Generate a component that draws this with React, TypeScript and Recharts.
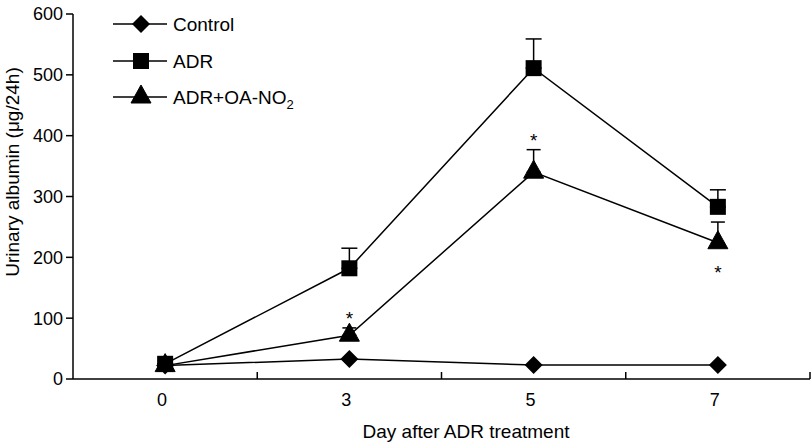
import * as React from "react";
import {ErrorBar, Line, LineChart, XAxis, YAxis} from "recharts";

// values (urinary albumin, µg/24h)
const DAYS = ["0", "3", "5", "7"];
const CONTROL = [22, 33, 23, 23];
const ADR = [25, 182, 511, 283];
const ADR_ERR = [0, 33, 48, 28];
const OA = [22, 72, 340, 224];
const OA_ERR = [0, 12, 37, 34];
const OA_SIG = ["", "above", "above", "below"];
const Y_TICKS = [0, 100, 200, 300, 400, 500, 600];

const FONT = "'Liberation Sans', Arial, sans-serif";

const data = DAYS.map((day, i) => ({
    idx: i,
    day,
    control: CONTROL[i],
    adr: ADR[i],
    adrErr: [0, ADR_ERR[i]],
    oa: OA[i],
    oaErr: [0, OA_ERR[i]],
    oaStar: OA_SIG[i] === "above" ? OA[i] + OA_ERR[i] : null,
}));

type Shape = "diamond" | "square" | "triangle";

function Marker({cx, cy, shape}: { cx: number, cy: number, shape: Shape }) {
    if (cx == null || cy == null || isNaN(cx) || isNaN(cy)) return null;
    if (shape === "diamond") {
        return <polygon points={`${cx},${cy - 9} ${cx + 9},${cy} ${cx},${cy + 9} ${cx - 9},${cy}`} fill="#000"/>;
    }
    if (shape === "square") {
        return <rect x={cx - 8} y={cy - 8} width={16} height={16} fill="#000"/>;
    }
    return <polygon points={`${cx},${cy - 12} ${cx + 10},${cy + 6} ${cx - 10},${cy + 6}`} fill="#000"
                    stroke="#000" strokeWidth={1}/>;
}

const dotFor = (shape: Shape) => (p: any) =>
    <Marker key={`${shape}-${p.index}`} cx={p.cx} cy={p.cy} shape={shape}/>;

function XTick(props: any) {
    const {x, y, payload} = props;
    const v = payload.value;
    if (Number.isInteger(v)) {
        return <text x={x - 3} y={y + 27} textAnchor="middle" fontSize={18} fontFamily={FONT}
                     fill="#000">{DAYS[v]}</text>;
    }
    return <line x1={x} x2={x} y1={y} y2={y - 7} stroke="#000" strokeWidth={1.5}/>;
}

const starBelow = (p: any) => {
    if (OA_SIG[p.index] !== "below") return null;
    return <text key={`sb-${p.index}`} x={p.x} y={p.y + 36} textAnchor="middle" fontSize={19}
                 fontFamily={FONT} fill="#000">*</text>;
};

const starAbove = (p: any) => {
    if (p.value == null) return null;
    return <text key={`sa-${p.index}`} x={p.x} y={p.y - 3} textAnchor="middle" fontSize={19}
                 fontFamily={FONT} fill="#000">*</text>;
};

const LEGEND: { name: React.ReactNode, shape: Shape }[] = [
    {name: "Control", shape: "diamond"},
    {name: "ADR", shape: "square"},
    {name: <>ADR+OA-NO<tspan fontSize={13} dy={5}>2</tspan></>, shape: "triangle"},
];
const LEGEND_Y = [24, 61, 97];

export default function App() {
    return (
        <div style={{position: "absolute", left: 0, top: 0, width: 812, height: 445, background: "#fff"}}>
            <LineChart width={812} height={445} data={data} margin={{top: 14, right: 2, bottom: 0, left: 0}}>
                <XAxis type="number" dataKey="idx" domain={[-0.5, 3.5]}
                       ticks={[0, 0.5, 1, 1.5, 2, 2.5, 3, 3.5]} interval={0}
                       tick={<XTick/>} tickLine={false} tickSize={0} tickMargin={0} height={66}
                       axisLine={{stroke: "#000", strokeWidth: 1.5}}
                       label={() => <text x={466} y={438} textAnchor="middle" fontSize={19}
                                          fontFamily={FONT} fill="#000">Day after ADR treatment</text>}/>
                <YAxis type="number" domain={[0, 600]} ticks={Y_TICKS} width={73} interval={0}
                       tickSize={7} tickMargin={3}
                       tick={{fontSize: 18, fontFamily: FONT, fill: "#000"}}
                       tickLine={{stroke: "#000", strokeWidth: 1.5}}
                       axisLine={{stroke: "#000", strokeWidth: 1.5}}
                       label={() => <text x={19} y={172} transform="rotate(-90 19 172)" textAnchor="middle"
                                          fontSize={19} fontFamily={FONT} fill="#000">Urinary albumin (μg/24h)</text>}/>
                <Line dataKey="control" stroke="#000" strokeWidth={1.5} dot={dotFor("diamond")}
                      activeDot={false} isAnimationActive={false}/>
                <Line dataKey="oa" stroke="#000" strokeWidth={1.5} dot={dotFor("triangle")}
                      activeDot={false} isAnimationActive={false} label={starBelow}>
                    <ErrorBar dataKey="oaErr" direction="y" width={7} stroke="#000" strokeWidth={1.5}/>
                </Line>
                <Line dataKey="oaStar" stroke="none" dot={false} activeDot={false} legendType="none"
                      isAnimationActive={false} label={starAbove}/>
                <Line dataKey="adr" stroke="#000" strokeWidth={1.5} dot={dotFor("square")}
                      activeDot={false} isAnimationActive={false}>
                    <ErrorBar dataKey="adrErr" direction="y" width={8} stroke="#000" strokeWidth={1.5}/>
                </Line>
            </LineChart>
            <svg width={300} height={120} style={{position: "absolute", left: 0, top: 0}}>
                {LEGEND.map((item, i) => (
                    <g key={i}>
                        <line x1={113} x2={167} y1={LEGEND_Y[i]} y2={LEGEND_Y[i]} stroke="#000" strokeWidth={1.5}/>
                        <Marker cx={141} cy={LEGEND_Y[i]} shape={item.shape}/>
                        <text x={173} y={LEGEND_Y[i] + 7} fontSize={19} fontFamily={FONT} fill="#000">{item.name}</text>
                    </g>
                ))}
            </svg>
        </div>
    );
}
